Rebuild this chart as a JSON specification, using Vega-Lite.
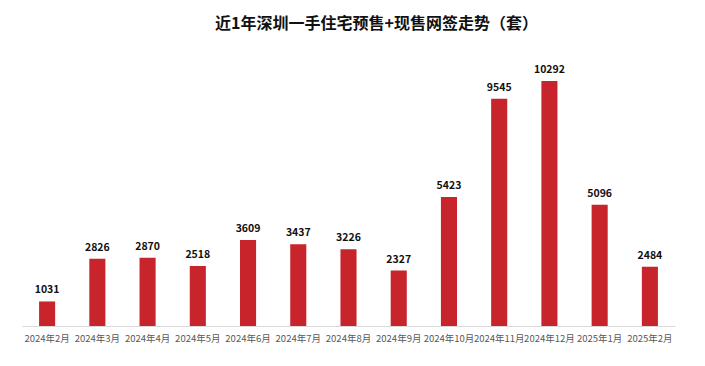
{
  "$schema": "https://vega.github.io/schema/vega-lite/v6.json",
  "width": 653,
  "height": 276,
  "autosize": "none",
  "padding": {"left": 22, "top": 50, "right": 30, "bottom": 40},
  "background": "white",
  "config": {"view": {"stroke": null}, "font": "Noto Sans CJK SC"},
  "title": {
    "text": "近1年深圳一手住宅预售+现售网签走势（套）",
    "fontSize": 16,
    "fontWeight": "bold",
    "color": "#111111",
    "anchor": "middle",
    "dx": 28,
    "offset": 18,
    "font": "Noto Sans CJK SC"
  },
  "data": {
    "values": [
      {"month": "2024年2月", "value": 1031},
      {"month": "2024年3月", "value": 2826},
      {"month": "2024年4月", "value": 2870},
      {"month": "2024年5月", "value": 2518},
      {"month": "2024年6月", "value": 3609},
      {"month": "2024年7月", "value": 3437},
      {"month": "2024年8月", "value": 3226},
      {"month": "2024年9月", "value": 2327},
      {"month": "2024年10月", "value": 5423},
      {"month": "2024年11月", "value": 9545},
      {"month": "2024年12月", "value": 10292},
      {"month": "2025年1月", "value": 5096},
      {"month": "2025年2月", "value": 2484}
    ]
  },
  "encoding": {
    "x": {
      "field": "month",
      "type": "nominal",
      "sort": null,
      "scale": {"paddingInner": 0.68, "paddingOuter": 0.34},
      "axis": {
        "title": null,
        "labelAngle": 0,
        "labelFontSize": 9.5,
        "labelColor": "#595959",
        "labelPadding": 7,
        "ticks": false,
        "domainColor": "#d9d9d9",
        "labelFont": "Noto Sans CJK SC"
      }
    },
    "y": {
      "field": "value",
      "type": "quantitative",
      "scale": {"domain": [0, 11594], "nice": false},
      "axis": null
    }
  },
  "layer": [
    {"mark": {"type": "bar", "color": "#C8242B"}},
    {
      "mark": {"type": "text", "baseline": "bottom", "dy": -6, "fontSize": 10.5, "fontWeight": "bold", "color": "#111111", "font": "Noto Sans CJK SC"},
      "encoding": {"text": {"field": "value", "type": "quantitative", "format": "d"}}
    }
  ]
}
